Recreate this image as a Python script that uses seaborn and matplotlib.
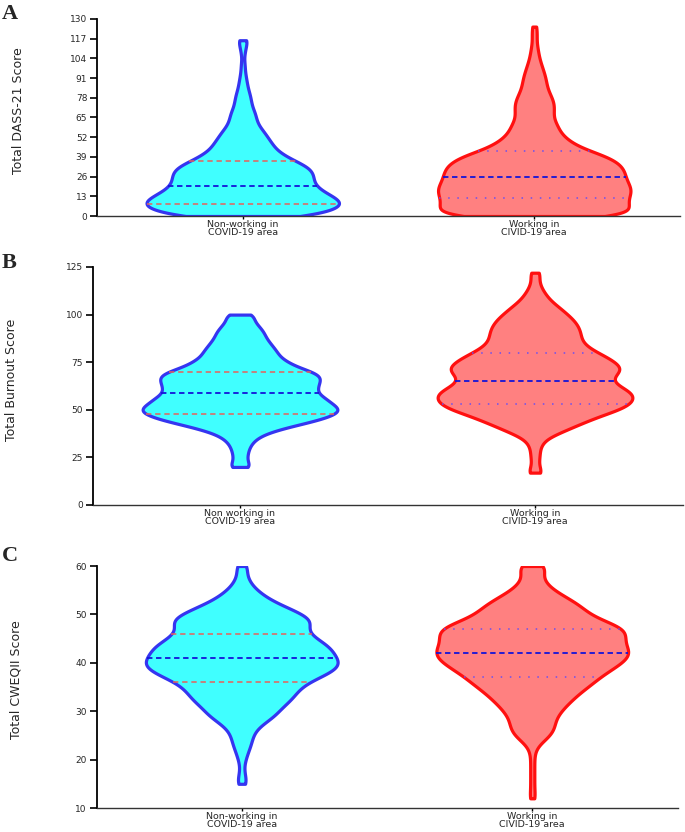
import numpy as np
import pandas as pd
import seaborn as sns
import matplotlib.pyplot as plt

sns.set_style("ticks")
plt.rcParams["font.family"] = ["DejaVu Sans"]

labels_a = ["Non-working in\nCOVID-19 area", "Working in\nCIVID-19 area"]
labels_b = ["Non working in\nCOVID-19 area", "Working in\nCIVID-19 area"]
labels_c = ["Non-working in\nCOVID-19 area", "Working in\nCIVID-19 area"]

# A: total DASS-21 score -> number of respondents
dass_non_scores = list(range(0, 117, 4))
dass_non_counts = [65, 88, 97, 90, 78, 70, 68, 68, 64, 52, 40, 32, 28, 24, 20,
                   15, 13, 12, 9, 8, 7, 5, 4, 3, 2, 2, 1, 2, 3, 5]
dass_work_scores = list(range(0, 121, 4)) + [125]
dass_work_counts = [97, 95, 93, 93, 97, 95, 91, 90, 88, 82, 70, 50, 38, 30, 25, 23,
                    19, 19, 20, 19, 16, 13, 12, 11, 9, 7, 5, 4, 3, 2, 3, 3]

# B: total burnout score
burn_non_scores = list(range(20, 101, 2))
burn_non_counts = [14, 7, 7, 7, 8, 9, 11, 14, 19, 27,
                   40, 55, 72, 85, 95, 99, 94, 87, 85, 76,
                   75, 76, 77, 79, 79, 72, 58, 50, 44, 38,
                   37, 34, 31, 28, 25, 24, 22, 18, 15, 12, 17]
burn_work_scores = list(range(17, 123, 3))
burn_work_counts = [9, 4, 4, 5, 5, 7, 12, 26, 40, 54, 69, 88, 100, 104, 102, 90, 80, 83,
                    92, 87, 78, 66, 55, 49, 48, 47, 44, 39, 32, 25, 17, 12, 8, 5, 4, 6]

# C: total CWEQII score
cweq_non_scores = list(range(15, 61))
cweq_non_counts = [6, 4, 3, 2, 2, 4, 5, 7, 9, 10,
                   11, 13, 18, 25, 33, 36, 40, 47, 51, 54,
                   58, 65, 76, 87, 95, 97, 93, 90, 88, 82,
                   73, 66, 63, 68, 70, 60, 50, 38, 28, 21,
                   15, 10, 7, 5, 4, 8]
cweq_work_scores = list(range(12, 61))
cweq_work_counts = [4, 2, 2, 2, 2, 2, 2, 2, 2, 2,
                    3, 5, 12, 18, 21, 22, 22, 24, 28, 32,
                    37, 42, 47, 54, 60, 65, 72, 80, 87, 93,
                    96, 93, 89, 90, 91, 92, 80, 65, 55, 51,
                    46, 38, 29, 21, 15, 11, 10, 10, 20]

fills = ["#40FFFF", "#FF8080"]
edges = ["#3535F0", "#FF1010"]


def violin_panel(ax, labels, non_scores, non_counts, work_scores, work_counts, bw):
    df = pd.DataFrame({
        "group": [labels[0]] * sum(non_counts) + [labels[1]] * sum(work_counts),
        "score": np.concatenate([np.repeat(non_scores, non_counts),
                                 np.repeat(work_scores, work_counts)]),
    })
    sns.violinplot(data=df, x="group", y="score", hue="group", order=labels,
                   hue_order=labels, palette=fills, saturation=1, cut=0,
                   density_norm="width", width=0.66, inner="quart", bw_method=bw,
                   gridsize=400, linewidth=2.2, legend=False, ax=ax)
    for coll, ec in zip(ax.collections, edges):
        coll.set_edgecolor(ec)
        coll.set_linewidth(2.3)
    # quartile lines: q1, median, q3 for each violin
    for i, line in enumerate(ax.lines):
        v, q = divmod(i, 3)
        if q == 1:
            line.set_color("#1414D8")
            line.set_linewidth(1.3)
            line.set_linestyle((0, (3, 2)))
        elif v == 0:
            line.set_color("#E8605A")
            line.set_linewidth(1.1)
            line.set_linestyle((0, (3.5, 2.5)))
        else:
            line.set_color("#6A50F0")
            line.set_linewidth(1.1)
            line.set_linestyle((0, (1, 5)))
    ax.set_xlim(-0.5, 1.5)
    ax.set_xlabel("")
    sns.despine(ax=ax)
    ax.spines["left"].set_color("black")
    ax.spines["left"].set_linewidth(1.3)
    ax.spines["bottom"].set_color("#333333")
    ax.spines["bottom"].set_linewidth(1.0)
    ax.tick_params(axis="y", length=5, width=1.2, pad=2, labelsize=6.5, color="black")
    ax.tick_params(axis="x", length=2.5, width=1.0, pad=0.5, labelsize=6.8, color="black")
    for t in ax.get_xticklabels():
        t.set_linespacing(0.85)


fig = plt.figure(figsize=(6.85, 8.32), dpi=100)
W, H = 685, 832

ax_a = fig.add_axes([97 / W, 1 - 216 / H, 583 / W, 197 / H])
violin_panel(ax_a, labels_a, dass_non_scores, dass_non_counts,
             dass_work_scores, dass_work_counts, 0.14)
ax_a.set_ylim(0, 130)
ax_a.set_yticks(range(0, 131, 13))

ax_b = fig.add_axes([92.5 / W, 1 - 505 / H, 590 / W, 238 / H])
violin_panel(ax_b, labels_b, burn_non_scores, burn_non_counts,
             burn_work_scores, burn_work_counts, 0.13)
ax_b.set_ylim(0, 125)
ax_b.set_yticks(range(0, 126, 25))

ax_c = fig.add_axes([96.5 / W, 1 - 808 / H, 581 / W, 242 / H])
violin_panel(ax_c, labels_c, cweq_non_scores, cweq_non_counts,
             cweq_work_scores, cweq_work_counts, 0.15)
ax_c.set_ylim(10, 60)
ax_c.set_yticks(range(10, 61, 10))

for ax, text, (x, y) in [(ax_a, "Total DASS-21 Score", (-0.124, 0.533)),
                         (ax_b, "Total Burnout Score", (-0.126, 0.527)),
                         (ax_c, "Total CWEQII Score", (-0.127, 0.531))]:
    ax.set_ylabel(text, fontsize=9)
    ax.yaxis.set_label_coords(x, y)

for letter, ypix in [("A", 4), ("B", 253), ("C", 546)]:
    fig.text(2 / W, 1 - ypix / H, letter, fontsize=16, fontweight="bold",
             family=["Liberation Serif", "DejaVu Serif"], va="top", ha="left")

fig.savefig("out.png", dpi=100)
